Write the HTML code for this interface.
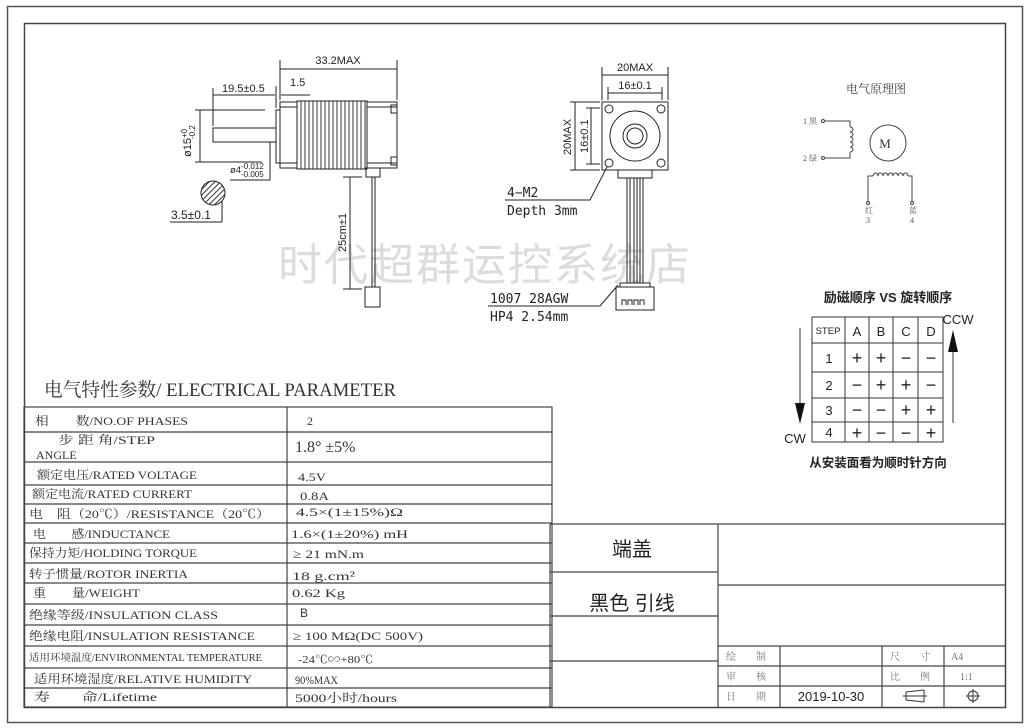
<!DOCTYPE html>
<html><head><meta charset="utf-8"><style>
html,body{margin:0;padding:0;background:#fff;}
svg{display:block;}
.s{font-family:"Liberation Serif","Noto Serif CJK SC",serif;}
.a{font-family:"Liberation Sans","Noto Sans CJK SC",sans-serif;}
</style></head><body>
<svg width="1028" height="728" viewBox="0 0 1028 728" xmlns="http://www.w3.org/2000/svg">
<defs>
<pattern id="h" width="4" height="4" patternUnits="userSpaceOnUse" patternTransform="rotate(45)"><rect width="4" height="4" fill="#fff"/><line x1="0" y1="0" x2="0" y2="4" stroke="#333" stroke-width="2"/></pattern>
</defs>
<rect width="1028" height="728" fill="#fff"/>
<rect x="7.5" y="6.5" width="1015" height="716" fill="none" stroke="#555" stroke-width="1.5"/>
<rect x="24.5" y="23.5" width="981" height="684" fill="none" stroke="#444" stroke-width="1.5"/>

<text x="485" y="280" text-anchor="middle" class="a" font-size="44" fill="#dcdcdc" letter-spacing="2">时代超群运控系统店</text>

<g stroke="#222" stroke-width="1" fill="none">
<rect x="280" y="102" width="117" height="66"/>
<rect x="276" y="110" width="4" height="53"/>
<line x1="280" y1="107" x2="397" y2="107"/>
<line x1="280" y1="163" x2="397" y2="163"/>
<rect x="297" y="101" width="70" height="68" fill="#fff"/>
<g stroke-width="0.9">
<line x1="301" y1="101" x2="301" y2="169"/><line x1="305" y1="101" x2="305" y2="169"/><line x1="309" y1="101" x2="309" y2="169"/><line x1="313" y1="101" x2="313" y2="169"/><line x1="317" y1="101" x2="317" y2="169"/><line x1="321" y1="101" x2="321" y2="169"/><line x1="325" y1="101" x2="325" y2="169"/><line x1="329" y1="101" x2="329" y2="169"/><line x1="333" y1="101" x2="333" y2="169"/><line x1="337" y1="101" x2="337" y2="169"/><line x1="341" y1="101" x2="341" y2="169"/><line x1="345" y1="101" x2="345" y2="169"/><line x1="349" y1="101" x2="349" y2="169"/><line x1="353" y1="101" x2="353" y2="169"/><line x1="357" y1="101" x2="357" y2="169"/><line x1="361" y1="101" x2="361" y2="169"/><line x1="365" y1="101" x2="365" y2="169"/>
</g>
<rect x="391" y="105" width="6" height="8"/><rect x="391" y="157" width="6" height="8"/>
<rect x="213" y="128" width="63" height="14"/>
<line x1="280" y1="60" x2="280" y2="100"/><line x1="397" y1="60" x2="397" y2="100"/>
<line x1="280" y1="69" x2="397" y2="69"/>
<line x1="213" y1="88" x2="213" y2="126"/><line x1="213" y1="95" x2="275" y2="95"/>
<line x1="276" y1="86" x2="276" y2="108"/><line x1="281" y1="95" x2="310" y2="95"/>
<line x1="195" y1="110" x2="265" y2="110"/><line x1="195" y1="162" x2="262" y2="162"/>
<line x1="200" y1="110" x2="200" y2="162"/>
<line x1="270" y1="142" x2="270" y2="180"/><line x1="230" y1="180" x2="270" y2="180"/>
<line x1="222" y1="195" x2="222" y2="222"/><line x1="170" y1="222" x2="222" y2="222"/>
<rect x="366" y="168" width="14" height="9"/>
<line x1="372" y1="177" x2="372" y2="287"/><line x1="375" y1="177" x2="375" y2="287"/>
<rect x="365" y="287" width="15" height="20"/>
<line x1="343" y1="177" x2="362" y2="177"/><line x1="343" y1="289" x2="362" y2="289"/>
<line x1="350" y1="177" x2="350" y2="289"/>
</g>
<circle cx="213" cy="193" r="12" fill="url(#h)" stroke="#222"/>
<g class="a" font-size="11" fill="#222">
<text x="338" y="64" text-anchor="middle">33.2MAX</text>
<text x="222" y="92">19.5±0.5</text>
<text x="290" y="86">1.5</text>
<text x="230" y="173" font-size="9.5">ø4<tspan dy="-4" font-size="8">-0.012</tspan><tspan x="241" dy="8" font-size="8">-0.005</tspan></text>
<text x="171" y="219" font-size="12">3.5±0.1</text>
<text transform="translate(191,157) rotate(-90)" font-size="11">ø15<tspan font-size="8" dy="-4">+0</tspan><tspan font-size="8" dy="8" dx="-10">-0.2</tspan></text>
<text transform="translate(346,252) rotate(-90)" font-size="11">25cm±1</text>
</g>

<g stroke="#222" stroke-width="1" fill="none">
<rect x="602" y="102" width="66" height="68"/>
<circle cx="609" cy="109" r="4"/><circle cx="661" cy="109" r="4"/><circle cx="609" cy="163" r="4"/><circle cx="661" cy="163" r="4"/>
<circle cx="635" cy="136" r="25"/><circle cx="635" cy="136" r="12"/><circle cx="635" cy="136" r="8"/>
<rect x="618" y="170" width="34" height="8"/>
<line x1="627" y1="178" x2="627" y2="283"/><line x1="630" y1="178" x2="630" y2="283"/>
<line x1="634" y1="178" x2="634" y2="283"/><line x1="637" y1="178" x2="637" y2="283"/>
<line x1="640" y1="178" x2="640" y2="283"/><line x1="643" y1="178" x2="643" y2="283"/>
<rect x="616" y="287" width="38" height="23"/><rect x="620" y="283" width="30" height="4"/>
<path d="M622 305v-5h4v5M628 305v-5h4v5M634 305v-5h4v5M640 305v-5h4v5"/>
<line x1="602" y1="67" x2="602" y2="100"/><line x1="668" y1="67" x2="668" y2="100"/>
<line x1="602" y1="75" x2="668" y2="75"/>
<line x1="608" y1="93" x2="662" y2="93"/><line x1="608" y1="87" x2="608" y2="100"/><line x1="662" y1="87" x2="662" y2="100"/>
<line x1="570" y1="102" x2="600" y2="102"/><line x1="570" y1="170" x2="600" y2="170"/>
<line x1="575" y1="102" x2="575" y2="170"/>
<line x1="591" y1="108" x2="591" y2="164"/><line x1="586" y1="108" x2="600" y2="108"/><line x1="586" y1="164" x2="600" y2="164"/>
<polyline points="505,200 590,200 607,167"/>
<polyline points="488,306 600,306 618,285"/>
</g>
<g class="a" font-size="11" fill="#222">
<text x="635" y="71" text-anchor="middle">20MAX</text>
<text x="635" y="89" text-anchor="middle">16±0.1</text>
<text transform="translate(571,155) rotate(-90)">20MAX</text>
<text transform="translate(588,153) rotate(-90)">16±0.1</text>
</g>
<g font-family="'DejaVu Sans Mono','Liberation Mono',monospace" font-size="13" fill="#222">
<text x="507" y="197">4−M2</text>
<text x="507" y="215">Depth  3mm</text>
<text x="490" y="303">1007  28AGW</text>
<text x="490" y="321">HP4  2.54mm</text>
</g>

<text x="876" y="93" text-anchor="middle" class="s" font-size="12" fill="#444">电气原理图</text>
<g stroke="#444" stroke-width="1" fill="none">
<circle cx="888" cy="143" r="18"/>
<polyline points="825,121 850,121 850,127"/><polyline points="825,158 850,158 850,152"/>
<path d="M850 127a3 2.5 0 0 1 0 5a3 2.5 0 0 1 0 5a3 2.5 0 0 1 0 5a3 2.5 0 0 1 0 5a3 2.5 0 0 1 0 5"/>
<path d="M873 176a2.5 3 0 0 1 5 0a2.5 3 0 0 1 5 0a2.5 3 0 0 1 5 0a2.5 3 0 0 1 5 0a2.5 3 0 0 1 5 0a2.5 3 0 0 1 5 0a2.5 3 0 0 1 5 0"/>
<polyline points="873,176 868,176 868,202"/><polyline points="908,176 912,176 912,202"/>
<circle cx="823" cy="121" r="1.5"/><circle cx="823" cy="158" r="1.5"/><circle cx="868" cy="203" r="1.5"/><circle cx="912" cy="203" r="1.5"/>
</g>
<g class="s" font-size="8" fill="#555">
<text x="885" y="148" text-anchor="middle" font-size="13" fill="#333">M</text>
<text x="803" y="124">1 黑</text><text x="803" y="161">2 绿</text>
<text x="865" y="213">红</text><text x="866" y="223">3</text>
<text x="909" y="213">蓝</text><text x="910" y="223">4</text>
</g>

<text x="888" y="302" text-anchor="middle" class="a" font-size="13" font-weight="bold" fill="#222">励磁顺序 VS 旋转顺序</text>
<g stroke="#333" stroke-width="1" fill="none">
<rect x="812" y="317" width="131" height="125"/>
<line x1="845" y1="317" x2="845" y2="442"/><line x1="869" y1="317" x2="869" y2="442"/>
<line x1="893" y1="317" x2="893" y2="442"/><line x1="918" y1="317" x2="918" y2="442"/>
<line x1="812" y1="343" x2="943" y2="343"/><line x1="812" y1="372" x2="943" y2="372"/>
<line x1="812" y1="398" x2="943" y2="398"/><line x1="812" y1="422" x2="943" y2="422"/>
<line x1="800" y1="328" x2="800" y2="405"/>
<line x1="953" y1="350" x2="953" y2="423"/>
</g>
<polygon points="795,403 805,403 800,424" fill="#111"/>
<polygon points="948,352 958,352 953,330" fill="#111"/>
<g class="a" fill="#222" font-size="13" text-anchor="middle">
<text x="828" y="334" font-size="9.5">STEP</text>
<text x="857" y="336">A</text><text x="881" y="336">B</text><text x="906" y="336">C</text><text x="931" y="336">D</text>
<text x="829" y="363">1</text><text x="829" y="390">2</text><text x="829" y="415">3</text><text x="829" y="437">4</text>
</g>
<g class="a" fill="#222" font-size="18" text-anchor="middle">
<text x="857" y="364">+</text><text x="881" y="364">+</text><text x="906" y="364">−</text><text x="931" y="364">−</text>
<text x="857" y="391">−</text><text x="881" y="391">+</text><text x="906" y="391">+</text><text x="931" y="391">−</text>
<text x="857" y="416">−</text><text x="881" y="416">−</text><text x="906" y="416">+</text><text x="931" y="416">+</text>
<text x="857" y="439">+</text><text x="881" y="439">−</text><text x="906" y="439">−</text><text x="931" y="439">+</text>
</g>
<g class="a" fill="#222" font-size="13" text-anchor="middle">
<text x="795" y="443">CW</text>
<text x="958" y="324">CCW</text>
</g>
<text x="878" y="467" text-anchor="middle" class="a" font-size="12.5" font-weight="bold" fill="#222">从安装面看为顺时针方向</text>

<text x="44" y="396" class="s" font-size="19" fill="#333" textLength="352" lengthAdjust="spacingAndGlyphs">电气特性参数/ ELECTRICAL PARAMETER</text>
<g stroke="#444" stroke-width="1.2" fill="none">
<rect x="24" y="407" width="528" height="300"/>
<line x1="287" y1="407" x2="287" y2="707"/>
<line x1="24" y1="432" x2="552" y2="432"/><line x1="24" y1="462" x2="552" y2="462"/>
<line x1="24" y1="485" x2="552" y2="485"/><line x1="24" y1="504" x2="552" y2="504"/>
<line x1="24" y1="523" x2="552" y2="523"/><line x1="24" y1="543" x2="552" y2="543"/>
<line x1="24" y1="563" x2="552" y2="563"/><line x1="24" y1="583" x2="552" y2="583"/>
<line x1="24" y1="604" x2="552" y2="604"/><line x1="24" y1="625" x2="552" y2="625"/>
<line x1="24" y1="646" x2="552" y2="646"/><line x1="24" y1="668" x2="552" y2="668"/>
<line x1="24" y1="688" x2="552" y2="688"/>
</g>
<g class="s" font-size="12" fill="#333" lengthAdjust="spacingAndGlyphs">
<text x="35" y="425" textLength="153" lengthAdjust="spacingAndGlyphs">相　　数/NO.OF PHASES</text><text x="307" y="425">2</text>
<text x="58" y="444" textLength="97" lengthAdjust="spacingAndGlyphs">步 距 角/STEP</text><text x="36" y="459">ANGLE</text><text x="295" y="452" font-size="16">1.8°  ±5%</text>
<text x="37" y="479" textLength="160" lengthAdjust="spacingAndGlyphs">额定电压/RATED VOLTAGE</text><text x="298" y="481" textLength="28" lengthAdjust="spacingAndGlyphs">4.5V</text>
<text x="32" y="498" textLength="160" lengthAdjust="spacingAndGlyphs">额定电流/RATED CURRERT</text><text x="300" y="500" textLength="29" lengthAdjust="spacingAndGlyphs">0.8A</text>
<text x="29" y="518" textLength="241" lengthAdjust="spacingAndGlyphs">电　阻（20℃）/RESISTANCE（20℃）</text><text x="296" y="516" textLength="107" lengthAdjust="spacingAndGlyphs">4.5×(1±15%)Ω</text>
<text x="33" y="538" textLength="137" lengthAdjust="spacingAndGlyphs">电　　感/INDUCTANCE</text><text x="291" y="538" textLength="117" lengthAdjust="spacingAndGlyphs">1.6×(1±20%) mH</text>
<text x="29" y="557" textLength="168" lengthAdjust="spacingAndGlyphs">保持力矩/HOLDING TORQUE</text><text x="293" y="558" textLength="71" lengthAdjust="spacingAndGlyphs">≥ 21 mN.m</text>
<text x="29" y="578" textLength="159" lengthAdjust="spacingAndGlyphs">转子惯量/ROTOR INERTIA</text><text x="292" y="580" textLength="63" lengthAdjust="spacingAndGlyphs">18 g.cm²</text>
<text x="33" y="597" textLength="107" lengthAdjust="spacingAndGlyphs">重　　量/WEIGHT</text><text x="292" y="597" textLength="53" lengthAdjust="spacingAndGlyphs">0.62 Kg</text>
<text x="29" y="619" textLength="189" lengthAdjust="spacingAndGlyphs">绝缘等级/INSULATION  CLASS</text><text x="300" y="617" class="a">B</text>
<text x="29" y="640" textLength="226" lengthAdjust="spacingAndGlyphs">绝缘电阻/INSULATION  RESISTANCE</text><text x="293" y="640" textLength="130" lengthAdjust="spacingAndGlyphs">≥ 100 MΩ(DC 500V)</text>
<text x="29" y="661" font-size="10" textLength="233" lengthAdjust="spacingAndGlyphs">适用环境温度/ENVIRONMENTAL TEMPERATURE</text><text x="298" y="663" font-size="11" textLength="75" lengthAdjust="spacingAndGlyphs">-24℃∽+80℃</text>
<text x="34" y="683" textLength="218" lengthAdjust="spacingAndGlyphs">适用环境湿度/RELATIVE HUMIDITY</text><text x="295" y="684" textLength="43" lengthAdjust="spacingAndGlyphs">90%MAX</text>
<text x="34" y="701" textLength="123" lengthAdjust="spacingAndGlyphs">寿　　命/Lifetime</text><text x="295" y="702" textLength="102" lengthAdjust="spacingAndGlyphs">5000小时/hours</text>
</g>

<g stroke="#444" stroke-width="1.2" fill="none">
<line x1="550" y1="524" x2="1005" y2="524"/>
<line x1="550" y1="524" x2="550" y2="707"/>
<line x1="718" y1="524" x2="718" y2="707"/>
<line x1="550" y1="572" x2="718" y2="572"/><line x1="550" y1="616" x2="718" y2="616"/><line x1="550" y1="661" x2="718" y2="661"/>
<line x1="718" y1="585" x2="1005" y2="585"/><line x1="718" y1="646" x2="1005" y2="646"/>
<line x1="718" y1="666" x2="1005" y2="666"/><line x1="718" y1="686" x2="1005" y2="686"/>
<line x1="780" y1="646" x2="780" y2="707"/><line x1="882" y1="646" x2="882" y2="707"/><line x1="944" y1="646" x2="944" y2="707"/>
</g>
<g class="a" fill="#222" font-size="20" text-anchor="middle">
<text x="632" y="556">端盖</text>
<text x="632" y="610">黑色 引线</text>
</g>
<g class="s" fill="#777" font-size="10">
<text x="726" y="660">绘　　制</text><text x="726" y="680">审　　核</text><text x="726" y="700">日　　期</text>
<text x="890" y="660">尺　　寸</text><text x="890" y="680">比　　例</text>
<text x="951" y="660">A4</text><text x="960" y="680">1:1</text>
</g>
<text x="831" y="701" text-anchor="middle" class="a" font-size="13" fill="#222">2019-10-30</text>
<g stroke="#333" stroke-width="1" fill="none">
<path d="M903 696h24M906 692l18 -2v12l-18 -2z"/>
<circle cx="973" cy="696" r="5"/><line x1="966" y1="696" x2="980" y2="696"/><line x1="973" y1="689" x2="973" y2="703"/>
</g>
</svg>
</body></html>
